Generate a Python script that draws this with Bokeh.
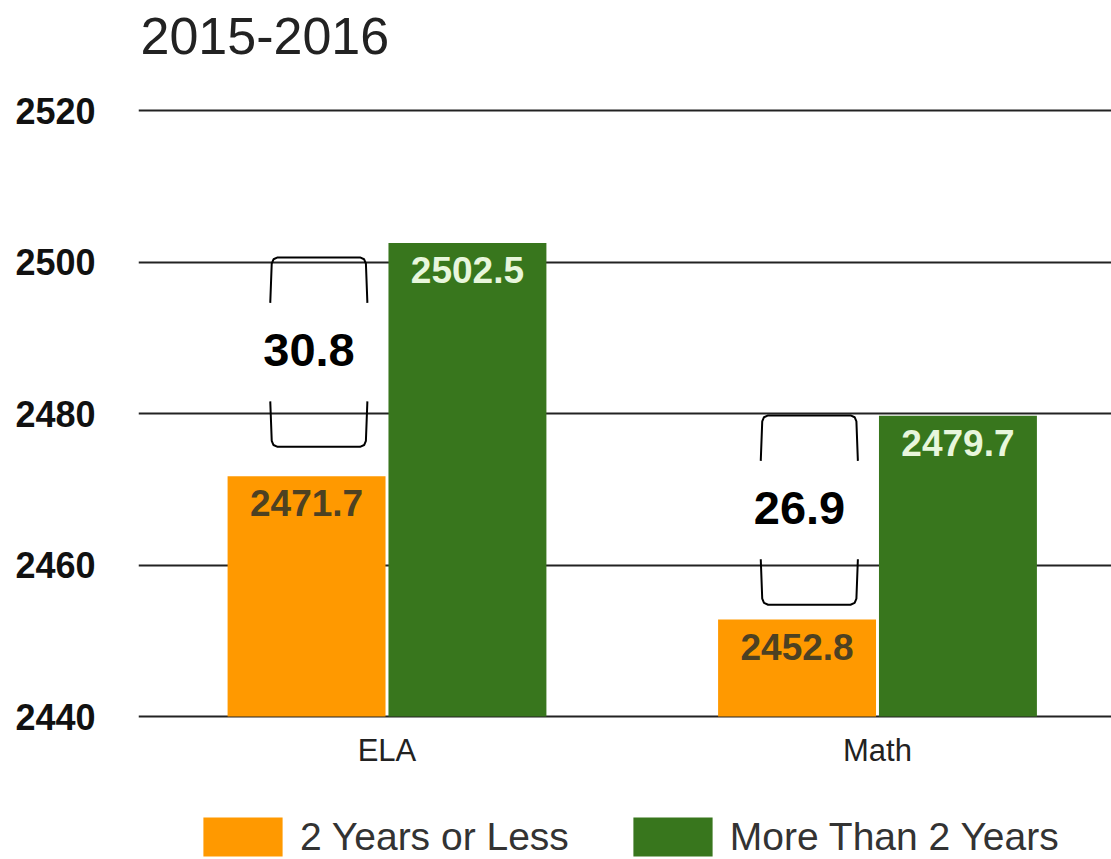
from bokeh.plotting import figure
from bokeh.models import Range1d, FixedTicker, Label, Legend, LegendItem
from bokeh.core.properties import value
from bokeh.embed import file_html
from bokeh.resources import INLINE

# ---------------- data ----------------
title_text = "2015-2016"
categories = ["ELA", "Math"]
less_2 = [2471.7, 2452.8]
more_2 = [2502.5, 2479.7]
series_names = ["2 Years or Less", "More Than 2 Years"]
y_ticks = [2440, 2460, 2480, 2500, 2520]

# ---------------- style / layout ----------------
ORANGE = "#ff9900"
GREEN = "#38761d"
FONT = "Liberation Sans"

W, H = 1111, 859
FRAME_LEFT = 138
TOP_TICK_PX, BOTTOM_TICK_PX = 110, 716        # pixel rows of first / last tick
px_per_unit_y = (BOTTOM_TICK_PX - TOP_TICK_PX) / (y_ticks[-1] - y_ticks[0])
y_end = y_ticks[-1] + TOP_TICK_PX / px_per_unit_y
y_start = y_ticks[0] - (H - BOTTOM_TICK_PX) / px_per_unit_y

px_per_cat = 490.5
x_start = 0.5 - (386.5 - FRAME_LEFT) / px_per_cat
x_end = x_start + (W - FRAME_LEFT) / px_per_cat

p = figure(width=W, height=H, output_backend="svg", toolbar_location=None,
           x_range=Range1d(x_start, x_end), y_range=Range1d(y_start, y_end),
           min_border_left=FRAME_LEFT, min_border_right=0,
           min_border_top=0, min_border_bottom=0)
p.outline_line_color = None
p.background_fill_color = "white"
p.border_fill_color = "white"

cat_x = [i + 0.5 for i in range(len(categories))]
dodge = 0.164
bar_w = 0.322
x_less = [c - dodge for c in cat_x]
x_more = [c + dodge for c in cat_x]

r_less = p.vbar(x=x_less, top=less_2, bottom=y_ticks[0], width=bar_w,
                fill_color=ORANGE, line_color=None)
r_more = p.vbar(x=x_more, top=more_2, bottom=y_ticks[0], width=bar_w,
                fill_color=GREEN, line_color=None)

# value labels inside bars
p.text(x=x_less, y=less_2, text=[f"{v:.1f}" for v in less_2],
       text_align="center", text_baseline="alphabetic", y_offset=27,
       text_font=value(FONT), text_font_style="bold", text_font_size="37px",
       text_color="#4d4122")
p.text(x=x_more, y=more_2, text=[f"{v:.1f}" for v in more_2],
       text_align="center", text_baseline="alphabetic", y_offset=27,
       text_font=value(FONT), text_font_style="bold", text_font_size="37px",
       text_color="#e8f6dc")

# difference brackets
diffs = [round(m - l, 1) for l, m in zip(less_2, more_2)]
xs, ys = [], []
text_x, text_y = [], []
for c, lo, hi in zip(cat_x, less_2, more_2):
    cx = c - 0.139
    hw = 0.096
    mid = (lo + hi) / 2 + 1.0
    hh = 12.5
    leg = 6.0
    rx, ry, fl = 0.012, 0.8, 0.003
    top_y = mid + hh
    bot_y = mid - hh
    bx = [cx - hw - fl, cx - hw, cx - hw + rx * 0.3, cx - hw + rx,
          cx + hw - rx, cx + hw - rx * 0.3, cx + hw, cx + hw + fl]
    xs.append(bx)
    ys.append([top_y - leg, top_y - ry, top_y - ry * 0.3, top_y,
               top_y, top_y - ry * 0.3, top_y - ry, top_y - leg])
    xs.append(bx)
    ys.append([bot_y + leg, bot_y + ry, bot_y + ry * 0.3, bot_y,
               bot_y, bot_y + ry * 0.3, bot_y + ry, bot_y + leg])
    text_x.append(cx - 0.02)
    text_y.append(mid)
p.multi_line(xs=xs, ys=ys, line_color="black", line_width=2)
p.text(x=text_x, y=text_y, text=[f"{d:.1f}" for d in diffs],
       text_align="center", text_baseline="alphabetic", y_offset=-2,
       text_font=value(FONT), text_font_style="bold", text_font_size="47px",
       text_color="black")

# grid
p.xgrid.visible = False
p.ygrid.ticker = FixedTicker(ticks=y_ticks)
p.ygrid.grid_line_color = "#222222"
p.ygrid.grid_line_width = 2

# y axis
p.yaxis.ticker = FixedTicker(ticks=y_ticks)
p.yaxis.axis_line_color = None
p.yaxis.major_tick_line_color = None
p.yaxis.minor_tick_line_color = None
p.yaxis.major_tick_out = 0
p.yaxis.major_tick_in = 0
p.yaxis.major_label_standoff = 43
p.yaxis.major_label_text_font = FONT
p.yaxis.major_label_text_font_style = "bold"
p.yaxis.major_label_text_font_size = "36px"
p.yaxis.major_label_text_color = "#111111"

# x axis, drawn at the baseline value
p.xaxis.fixed_location = y_ticks[0]
p.xaxis.ticker = FixedTicker(ticks=cat_x)
p.xaxis.major_label_overrides = {c: n for c, n in zip(cat_x, categories)}
p.xaxis.axis_line_color = None
p.xaxis.major_tick_line_color = None
p.xaxis.minor_tick_line_color = None
p.xaxis.major_tick_out = 0
p.xaxis.major_tick_in = 0
p.xaxis.major_label_standoff = 16
p.xaxis.major_label_text_font = FONT
p.xaxis.major_label_text_font_size = "31px"
p.xaxis.major_label_text_color = "#222222"

# title
p.add_layout(Label(x=2, y=H - 35, x_units="screen", y_units="screen",
                   text=title_text, text_font=FONT, text_font_size="52px",
                   text_color="#222222", text_baseline="middle"))

# legend
legend = Legend(items=[LegendItem(label=series_names[0], renderers=[r_less]),
                       LegendItem(label=series_names[1], renderers=[r_more])],
                orientation="horizontal", location=(55, -2),
                glyph_width=99, glyph_height=49, label_standoff=8, spacing=54,
                padding=0, margin=0, border_line_color=None,
                background_fill_alpha=0,
                label_text_font=FONT, label_text_font_size="39px",
                label_text_color="#333333")
p.add_layout(legend)

open("out.html", "w").write(file_html(p, INLINE))
